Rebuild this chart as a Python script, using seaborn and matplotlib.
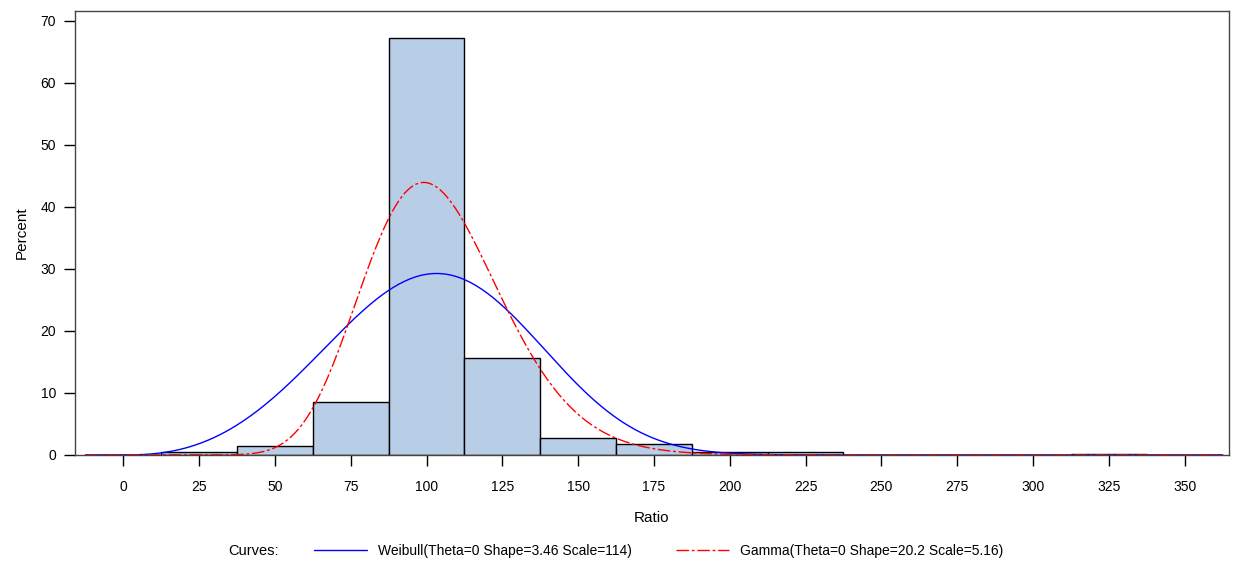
import math
import numpy as np
import pandas as pd
import matplotlib
matplotlib.use("Agg")
import matplotlib.pyplot as plt
from matplotlib.lines import Line2D
import seaborn as sns

# histogram: bin midpoints (width 25) and percent of observations
bin_mid = [0, 25, 50, 75, 100, 125, 150, 175, 200, 225, 250, 275, 300, 325, 350]
percent = [0.0, 0.5, 1.5, 8.6, 67.2, 15.7, 2.8, 1.8, 0.5, 0.5, 0.0, 0.0, 0.0, 0.2, 0.0]
bin_width = 25

# fitted curves (parameters from the legend)
weibull_shape, weibull_scale = 3.46, 114
gamma_shape, gamma_scale = 20.2, 5.16
xticks = [0, 25, 50, 75, 100, 125, 150, 175, 200, 225, 250, 275, 300, 325, 350]
yticks = [0, 10, 20, 30, 40, 50, 60, 70]

sns.set_style("white")
plt.rcParams["font.family"] = ["Liberation Sans", "DejaVu Sans"]
plt.rcParams["text.color"] = "black"
plt.rcParams["axes.labelcolor"] = "black"
plt.rcParams["xtick.color"] = "black"
plt.rcParams["ytick.color"] = "black"

fig, ax = plt.subplots(figsize=(12.36, 5.63), dpi=100)
fig.subplots_adjust(left=0.061, right=0.994, top=0.981, bottom=0.192)

hist_df = pd.DataFrame({"ratio": bin_mid, "pct": percent})
edges = [m - bin_width / 2 for m in bin_mid] + [bin_mid[-1] + bin_width / 2]
sns.histplot(data=hist_df, x="ratio", weights="pct", bins=edges, stat="count",
             color="#b8cde6", alpha=1.0, edgecolor="black", linewidth=1.0, ax=ax)

# curves scaled to percent per bin
xs = np.linspace(-12.5, 362.5, 400)
xp = np.clip(xs, 1e-9, None)
weib = (weibull_shape / weibull_scale) * (xp / weibull_scale) ** (weibull_shape - 1) \
    * np.exp(-(xp / weibull_scale) ** weibull_shape)
weib[xs <= 0] = 0
gam = np.exp((gamma_shape - 1) * np.log(xp) - xp / gamma_scale
             - math.lgamma(gamma_shape) - gamma_shape * math.log(gamma_scale))
gam[xs <= 0] = 0
curves = pd.DataFrame({"x": xs, "weibull": weib * bin_width * 100,
                       "gamma": gam * bin_width * 100})

sns.lineplot(data=curves, x="x", y="weibull", color="blue", linewidth=1.0, ax=ax)
sns.lineplot(data=curves, x="x", y="gamma", color="red", linewidth=1.0, ax=ax)
ax.lines[-1].set_dashes([9, 2, 2, 2])

ax.set_xlim(-15.8, 364.5)
ax.set_ylim(0, 71.6)
ax.set_xticks(xticks)
ax.set_yticks(yticks)
ax.tick_params(axis="both", direction="out", length=8, width=1, labelsize=10,
               bottom=True, left=True, pad=6)
ax.tick_params(axis="x", pad=10)
for s in ax.spines.values():
    s.set_color("#444444")
    s.set_linewidth(1)
ax.set_xlabel("Ratio", fontsize=11, labelpad=12)
ax.set_ylabel("Percent", fontsize=11, labelpad=8)

# legend at the bottom
h1 = Line2D([], [], color="blue", linewidth=1.0)
h2 = Line2D([], [], color="red", linewidth=1.0, dashes=[9, 2, 2, 2])
fig.text(0.185, 0.022, "Curves:", fontsize=10.5, va="center")
fig.legend([h1, h2],
           ["Weibull(Theta=0 Shape=3.46 Scale=114)",
            "Gamma(Theta=0 Shape=20.2 Scale=5.16)"],
           loc="center left", bbox_to_anchor=(0.244, 0.022), ncol=2,
           frameon=False, fontsize=10, handlelength=3.8, columnspacing=3.2)

fig.savefig("out.png", dpi=100)
